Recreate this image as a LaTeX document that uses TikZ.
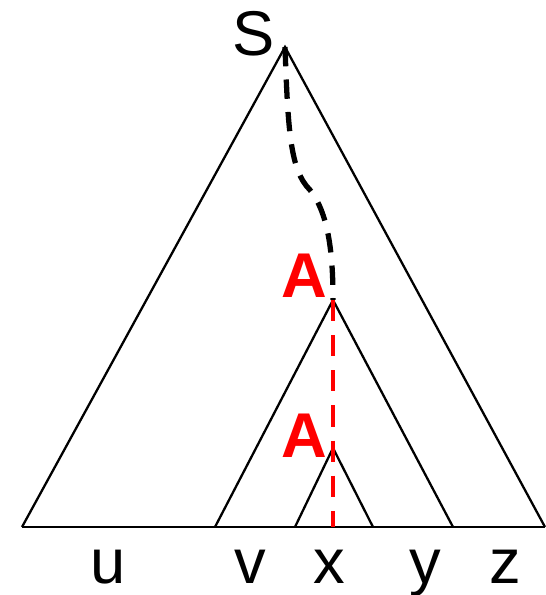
\documentclass[tikz,border=0pt]{standalone}
\usepackage{fontspec}
\setmainfont{Liberation Sans}
\usetikzlibrary{positioning}
\definecolor{pumpred}{HTML}{FF0000}

\begin{document}
\begin{tikzpicture}[x=0.02cm, y=-0.02cm,
    edge/.style={line width=1.3pt},
    word/.style={font=\fontsize{36}{40}\selectfont, inner sep=0pt, anchor=base},
    var/.style={word, text=pumpred, font=\fontsize{36}{40}\selectfont\bfseries}]
  \useasboundingbox (0,0) rectangle (545,595);
  % corners of the three trees
  \coordinate (rootS) at (285,47);
  \coordinate (topA) at (333,300);
  \coordinate (lowA) at (333,448);
  \coordinate (baseL) at (22,527);
  \coordinate (baseR) at (545,527);
  \coordinate (vL) at (215,527);
  \coordinate (yR) at (453,527);
  \coordinate (xL) at (295,527);
  \coordinate (xR) at (373,527);
  \coordinate (xMid) at (333,527);
  \draw[edge] (baseL) -- (rootS) -- (baseR);
  \draw[edge] (vL) -- (topA) -- (yR);
  \draw[edge] (xL) -- (lowA) -- (xR);
  \draw[edge] (baseL) -- (baseR);
  % path from S down to A
  \draw[line width=3pt, dash pattern=on 11pt off 7.5pt]
    (rootS) .. controls (288,130) and (290,170) .. (310,190)
    .. controls (330,215) and (333,260) .. (topA);
  \draw[pumpred, line width=2.6pt, dash pattern=on 12pt off 8pt] (topA) -- (xMid);
  % labels
  \node[word] (labS) at (254,55) {S};
  \node[var] (labA) at (304,297) {A};
  \node[var] (laba) at (304,457) {A};
  \foreach \t/\x in {u/108, v/250, x/329, y/425, z/505} {
    \node[word] (leaf-\t) at (\x,583) {\t};
  }
\end{tikzpicture}
\end{document}
